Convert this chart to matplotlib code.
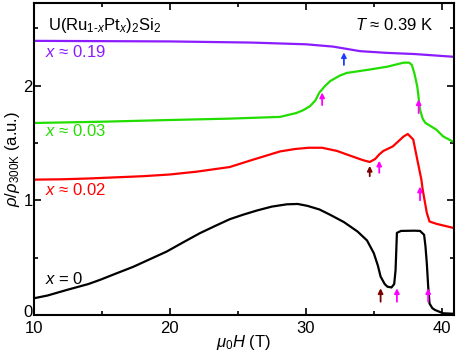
import numpy as np
import matplotlib
matplotlib.use("Agg")
import matplotlib.pyplot as plt
import matplotlib.transforms as mtransforms

plt.rcParams['font.family'] = ['Liberation Sans', 'DejaVu Sans']
plt.rcParams['mathtext.fontset'] = 'custom'
plt.rcParams['mathtext.rm'] = 'Liberation Sans'
plt.rcParams['mathtext.it'] = 'Liberation Sans:italic'
plt.rcParams['mathtext.bf'] = 'Liberation Sans:bold'

# x = 0
H_x0 = [10, 11, 12.4, 14, 14.85, 16, 17.3, 18.5, 19.76, 21, 22.2, 23.3, 24.4, 25.4, 26.4, 27.5,
        28.6, 29.4, 30.1, 31.0, 31.8, 32.8, 33.8, 34.5, 35.0, 35.3, 35.5, 35.8, 36.0, 36.3,
        36.5, 36.6, 36.7, 37.0, 38.0, 38.4, 38.7, 38.8, 38.9, 39.0, 39.1, 39.3, 39.5, 40.1, 41]
rho_x0 = [0.146, 0.17, 0.218, 0.27, 0.306, 0.36, 0.42, 0.485, 0.553, 0.635, 0.713, 0.775, 0.835,
          0.875, 0.911, 0.945, 0.965, 0.968, 0.952, 0.92, 0.873, 0.81, 0.728, 0.65, 0.539, 0.43,
          0.335, 0.27, 0.247, 0.24, 0.27, 0.39, 0.716, 0.733, 0.735, 0.733, 0.699, 0.6, 0.45,
          0.25, 0.10, 0.06, 0.044, 0.015, 0.01]

# x ~ 0.02
H_x002 = [10, 12, 14, 16, 18, 20, 22, 24.4, 26, 28.1, 29.2, 30.2, 31.2, 32.3, 33.0, 34.2, 34.7,
          35.1, 35.4, 35.7, 36.4, 37.2, 37.5, 37.9, 38.2, 38.5, 38.6, 38.9, 39.1, 39.6, 41]
rho_x002 = [1.18, 1.183, 1.19, 1.20, 1.21, 1.225, 1.25, 1.29, 1.35, 1.426, 1.447, 1.458, 1.458,
            1.43, 1.40, 1.35, 1.334, 1.36, 1.40, 1.43, 1.47, 1.557, 1.578, 1.53, 1.354, 1.18,
            1.09, 0.89, 0.815, 0.795, 0.755]

# x ~ 0.03
H_x003 = [10, 15, 20, 24.4, 28.1, 29.3, 29.8, 30.3, 30.7, 31.0, 31.4, 31.8, 32.5, 33.0, 34.7, 36,
          37.2, 37.6, 37.8, 38.0, 38.2, 38.4, 38.6, 38.8, 39.6, 40.1, 41]
rho_x003 = [1.674, 1.685, 1.70, 1.712, 1.727, 1.761, 1.785, 1.82, 1.87, 1.94, 1.995, 2.04, 2.087,
            2.11, 2.14, 2.165, 2.20, 2.20, 2.18, 2.10, 1.99, 1.79, 1.71, 1.674, 1.616, 1.557, 1.50]

# x ~ 0.19
H_x019 = [10, 20, 26, 30, 32, 33, 34, 36, 38, 41]
rho_x019 = [2.39, 2.385, 2.375, 2.36, 2.34, 2.32, 2.30, 2.285, 2.275, 2.25]

# arrows marking transitions: field, bottom, tip, colour
arrow_H = [32.8, 31.2, 38.3, 34.7, 35.4, 38.4, 35.5, 36.7, 39.0]
arrow_lo = [2.18, 1.83, 1.76, 1.21, 1.24, 1.00, 0.116, 0.116, 0.116]
arrow_hi = [2.29, 1.94, 1.88, 1.30, 1.345, 1.12, 0.233, 0.233, 0.233]
arrow_col = ['#1f3cff', '#ff00ff', '#ff00ff', '#7a0000', '#ff00ff', '#ff00ff',
             '#7a0000', '#ff00ff', '#ff00ff']

fig = plt.figure(figsize=(4.57, 3.51), dpi=100)
ax = fig.add_axes([34 / 457, 36 / 351, 420 / 457, 312 / 351])

ax.plot(H_x0, rho_x0, color='black', lw=1.6)
ax.plot(H_x002, rho_x002, color='#ff0000', lw=1.6)
ax.plot(H_x003, rho_x003, color='#22dd00', lw=1.6)
ax.plot(H_x019, rho_x019, color='#8a1cff', lw=1.6)

for h, lo, hi, c in zip(arrow_H, arrow_lo, arrow_hi, arrow_col):
    ax.annotate('', xy=(h, hi), xytext=(h, lo),
                arrowprops=dict(arrowstyle='-|>', color=c, lw=1.3, mutation_scale=7,
                                shrinkA=0, shrinkB=0))

fs = 12
ax.text(11.0, 2.52, r'U(Ru$_{1\text{-}x}$Pt$_x$)$_2$Si$_2$', fontsize=fs, va='center')
ax.text(33.6, 2.53, r'$T$ ≈ 0.39 K', fontsize=fs, va='center')
ax.text(10.8, 2.29, r'$x$ ≈ 0.19', fontsize=fs, va='center', color='#8a1cff')
ax.text(10.8, 1.60, r'$x$ ≈ 0.03', fontsize=fs, va='center', color='#22dd00')
ax.text(10.8, 1.09, r'$x$ ≈ 0.02', fontsize=fs, va='center', color='#ff0000')
ax.text(10.8, 0.31, r'$x$ = 0', fontsize=fs, va='center', color='black')

ax.set_xlim(10, 40.9)
ax.set_ylim(0, 2.72)
ax.set_xticks([10, 20, 30, 40])
ax.set_xticks([15, 25, 35], minor=True)
ax.set_yticks([0, 1, 2])
ax.set_yticks([0.5, 1.5, 2.5], minor=True)
ax.tick_params(which='both', direction='in', top=True, right=True, labelsize=fs, width=1.2)
ax.tick_params(which='major', length=5)
ax.tick_params(which='minor', length=3)
ax.tick_params(axis='x', pad=4.5)
ax.tick_params(axis='y', pad=1)
for s in ax.spines.values():
    s.set_linewidth(1.5)

# lift the "0" label slightly so it does not collide with "10"
lbl0 = ax.get_yticklabels()[0]
lbl0.set_transform(lbl0.get_transform() +
                   mtransforms.ScaledTranslation(0, 3 / 72, fig.dpi_scale_trans))

ax.set_xlabel(r'$\mu_0H$ (T)', fontsize=fs, labelpad=-2)
ax.set_ylabel(r'$\rho/\rho_{\mathrm{300K}}$ (a.u.)', fontsize=fs, labelpad=1)

fig.savefig('out.png', dpi=100)
